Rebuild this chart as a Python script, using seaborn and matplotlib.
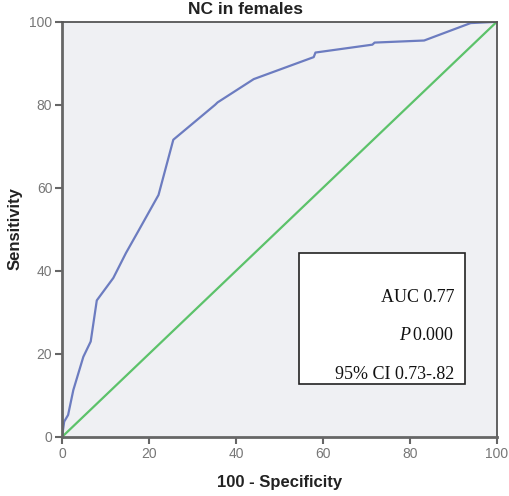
import matplotlib
matplotlib.use("Agg")
import matplotlib.pyplot as plt
import pandas as pd
import seaborn as sns

# ROC curve (100 - specificity, sensitivity)
fpr = [0, 0.5, 1.4, 2.6, 4.9, 6.6, 8.0, 11.8, 14.7, 17.5, 22.2, 25.6,
       35.2, 35.8, 44.1, 57.9, 58.3, 71.4, 71.9, 83.3, 94.0, 100]
tpr = [0, 3.7, 5.3, 11.3, 19.3, 23.0, 32.9, 38.3, 44.3, 49.5, 58.3, 71.6,
       80.0, 80.6, 86.2, 91.5, 92.6, 94.5, 95.0, 95.5, 99.7, 100]
ref = [0, 100]

stats_lines = ["AUC 0.77", r"$\mathit{P}\,$0.000", "95% CI 0.73-.82"]
ticks = [0, 20, 40, 60, 80, 100]

sns.set_style("white")
plt.rcParams["font.family"] = ["Liberation Sans", "DejaVu Sans"]
plt.rcParams["mathtext.fontset"] = "custom"
plt.rcParams["mathtext.rm"] = "Liberation Serif"
plt.rcParams["mathtext.it"] = "Liberation Serif:italic"

fig = plt.figure(figsize=(5.10, 4.96), dpi=100)
ax = fig.add_axes([0.1216, 0.119, 0.8524, 0.837])
ax.set_facecolor("#eff0f3")

roc = pd.DataFrame({"fpr": fpr, "tpr": tpr})
sns.lineplot(data=roc, x="fpr", y="tpr", sort=False, color="#6c7cc0",
             linewidth=1.6, ax=ax)
sns.lineplot(x=ref, y=ref, color="#5cc26a", linewidth=1.6, ax=ax)

ax.set_xlim(0, 100)
ax.set_ylim(0, 100)
ax.set_xticks(ticks)
ax.set_yticks(ticks)
ax.tick_params(axis="both", which="both", direction="out", length=5, width=1.5,
               color="#666666", labelcolor="#777777", labelsize=10, pad=2,
               bottom=True, left=True)
for side in ["left", "bottom"]:
    ax.spines[side].set_color("#666666")
    ax.spines[side].set_linewidth(2)
for side in ["top", "right"]:
    ax.spines[side].set_color("#555555")
    ax.spines[side].set_linewidth(1.3)

ax.set_xlabel("100 - Specificity", fontsize=12, fontweight="bold", color="#222222",
              labelpad=10)
ax.set_ylabel("")
fig.text(15 / 510, 1 - 229 / 496, "Sensitivity", fontsize=12, fontweight="bold",
         rotation=90, ha="center", va="center", color="#222222")
fig.text(246 / 510, 1 - 10 / 496, "NC in females", fontsize=12.5, fontweight="bold",
         ha="center", va="center", color="#222222")

# statistics box
box = plt.Rectangle((0.545, 0.127), 0.382, 0.315, transform=ax.transAxes,
                    facecolor="white", edgecolor="#222222", linewidth=1.2, zorder=5)
ax.add_patch(box)
tx = 0.902
serif = ["Liberation Serif", "DejaVu Serif"]
for txt, ty in zip(stats_lines, [0.336, 0.244, 0.15]):
    ax.text(tx, ty, txt, transform=ax.transAxes, ha="right", va="center",
            fontsize=13, family=serif, color="#111111", zorder=6)

fig.savefig("out.png", dpi=100)
